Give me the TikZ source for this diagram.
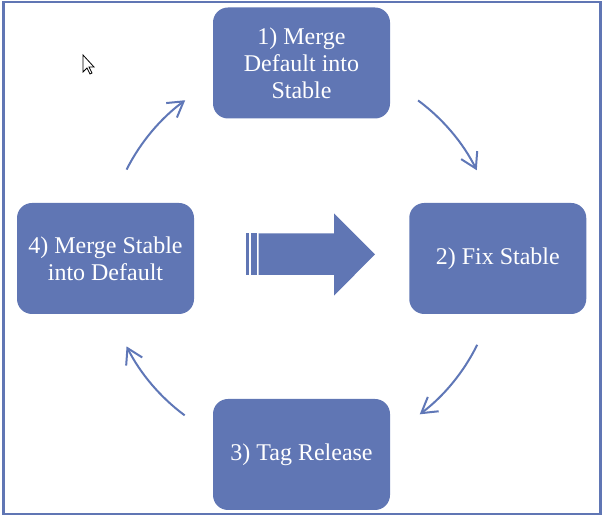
\documentclass[tikz,border=0pt]{standalone}
\usepackage{fontspec}
\setmainfont{Liberation Serif}
\usetikzlibrary{arrows.meta}
\definecolor{boxblue}{RGB}{96,118,180}
\definecolor{linblue}{RGB}{95,119,183}
\begin{document}
\begin{tikzpicture}[x=1pt,y=1pt,
  stepbox/.style={fill=boxblue, rounded corners=15pt, minimum width=177pt,
    minimum height=111pt, text=white, align=center,
    font=\fontsize{24}{27}\selectfont, inner sep=0pt},
  cyc/.style={draw=linblue, line width=2pt,
    -{Straight Barb[length=15pt,width=18pt,line width=2pt]}},
  blockarrow/.style={fill=boxblue},
  cursorshape/.style={fill=white, draw=black, line width=0.8pt, line join=miter}
]
\useasboundingbox (0,0) rectangle (604,518);
\draw[boxblue, line width=2.5pt] (3.3,4) rectangle (600.5,516);

\node[stepbox] (s1) at (301.5,455) {1) Merge\\Default into\\Stable};
\node[stepbox] (s2) at (497.75,259.5) {2) Fix Stable};
\node[stepbox] (s3) at (301.5,63.5) {3) Tag Release};
\node[stepbox] (s4) at (105.5,259.5) {4) Merge Stable\\into Default};

\coordinate (c) at (301.5,260);
\draw[cyc] ([shift={(153.2:196pt)}]c) arc[start angle=153.2, end angle=126.4, radius=196pt];
\draw[cyc] ([shift={(53.5:196pt)}]c) arc[start angle=53.5, end angle=26.6, radius=196pt];
\draw[cyc] ([shift={(-26.3:196pt)}]c) arc[start angle=-26.3, end angle=-52.9, radius=196pt];
\draw[cyc] ([shift={(-126.6:196pt)}]c) arc[start angle=-126.6, end angle=-153.2, radius=196pt];

\fill[blockarrow] (258.5,284.7) -- (334,284.7) -- (334,304.7) -- (375,263.7)
  -- (334,222.3) -- (334,243) -- (258.5,243) -- cycle;
\fill[blockarrow] (246,243) rectangle (248.5,284.7);
\fill[blockarrow] (250.5,243) rectangle (256.5,284.7);

\draw[cursorshape] (83,463) -- (83,446) -- (87,450) -- (90,444) -- (92,445)
  -- (89,451) -- (94,451) -- cycle;
\end{tikzpicture}
\end{document}
